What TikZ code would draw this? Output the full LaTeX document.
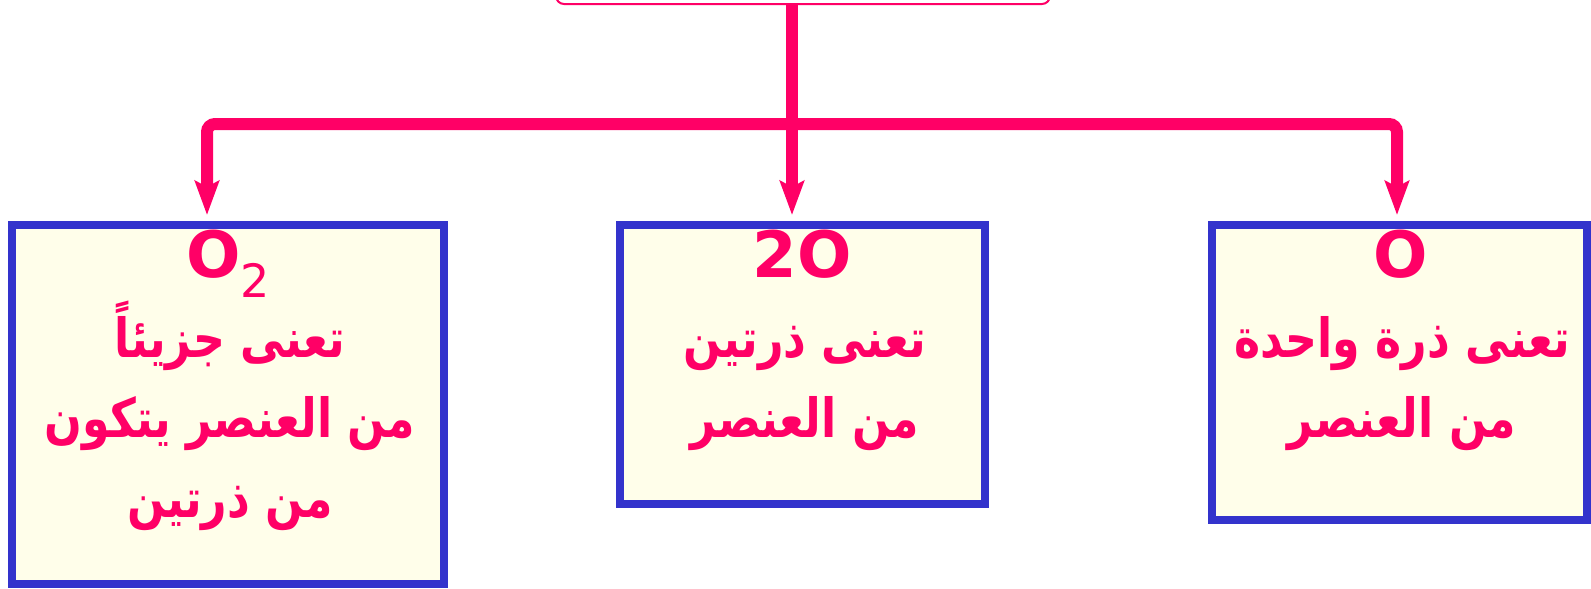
\documentclass[tikz,border=0pt]{standalone}
\usepackage{fontspec}
\setmainfont{DejaVu Sans}
\newfontfamily\arabicfont[Script=Arabic, FakeStretch=0.82]{DejaVu Sans}
\TeXXeTstate=1
\usetikzlibrary{arrows.meta}
\definecolor{rosered}{HTML}{FF0066}
\definecolor{boxblue}{HTML}{3333CC}
\definecolor{boxfill}{HTML}{FFFEEA}
\tikzset{
  box/.style={draw=boxblue, line width=4pt, fill=boxfill, inner sep=0pt, outer sep=0pt},
  link/.style={draw=rosered, line width=6pt, rounded corners=4pt},
  tip/.style={-{Stealth[length=17pt,width=12pt,inset=3pt]}},
  sym/.style={anchor=base, text=rosered, font=\fontsize{32}{32}\selectfont\bfseries},
  ar/.style={anchor=base, text=rosered, font=\fontsize{27}{27}\selectfont\bfseries\arabicfont},
}

\begin{document}
\begin{tikzpicture}[x=0.5pt, y=-0.5pt]
  \useasboundingbox (0,0) rectangle (1591,589);
  % top box, cut off by the page
  \node[draw=rosered, line width=1pt, fill=white, rounded corners=4pt,
        minimum width=247pt, minimum height=30pt] (top) at (803,-26) {};

  \node[box, minimum width=216pt, minimum height=179.5pt] (left) at (228,404.5) {};
  \node[box, minimum width=182.5pt, minimum height=139.5pt] (mid) at (802.5,364.5) {};
  \node[box, minimum width=187.5pt, minimum height=147.5pt] (right) at (1399.5,372.5) {};

  \coordinate (hub) at (792,124);
  \coordinate (ltip) at (207,215);
  \coordinate (mtip) at (792,215);
  \coordinate (rtip) at (1397,215);

  \draw[link] (hub |- top.south) -- (hub);
  \draw[link, tip] (hub) -| (ltip);
  \draw[link, tip] (hub) -| (rtip);
  \draw[link, tip] (hub) -- (mtip);

  % left box
  \node[sym] (lsym) at (228,277) {O\raisebox{-10pt}{\mdseries\fontsize{23}{23}\selectfont 2}};
  \node[ar] (la) at (230,357) {\beginR تعنى جزيئاً\endR};
  \node[ar] (lb) at (230,437) {\beginR من العنصر  يتكون\endR};
  \node[ar] (lc) at (230,517) {\beginR من ذرتين\endR};

  % middle box
  \node[sym] (msym) at (802,277) {2O};
  \node[ar] (ma) at (805,357) {\beginR تعنى ذرتين\endR};
  \node[ar] (mb) at (805,437) {\beginR من العنصر\endR};

  % right box
  \node[sym] (rsym) at (1401,277) {O};
  \node[ar] (ra) at (1402,357) {\beginR تعنى ذرة واحدة\endR};
  \node[ar] (rb) at (1402,437) {\beginR من العنصر\endR};
\end{tikzpicture}
\end{document}
